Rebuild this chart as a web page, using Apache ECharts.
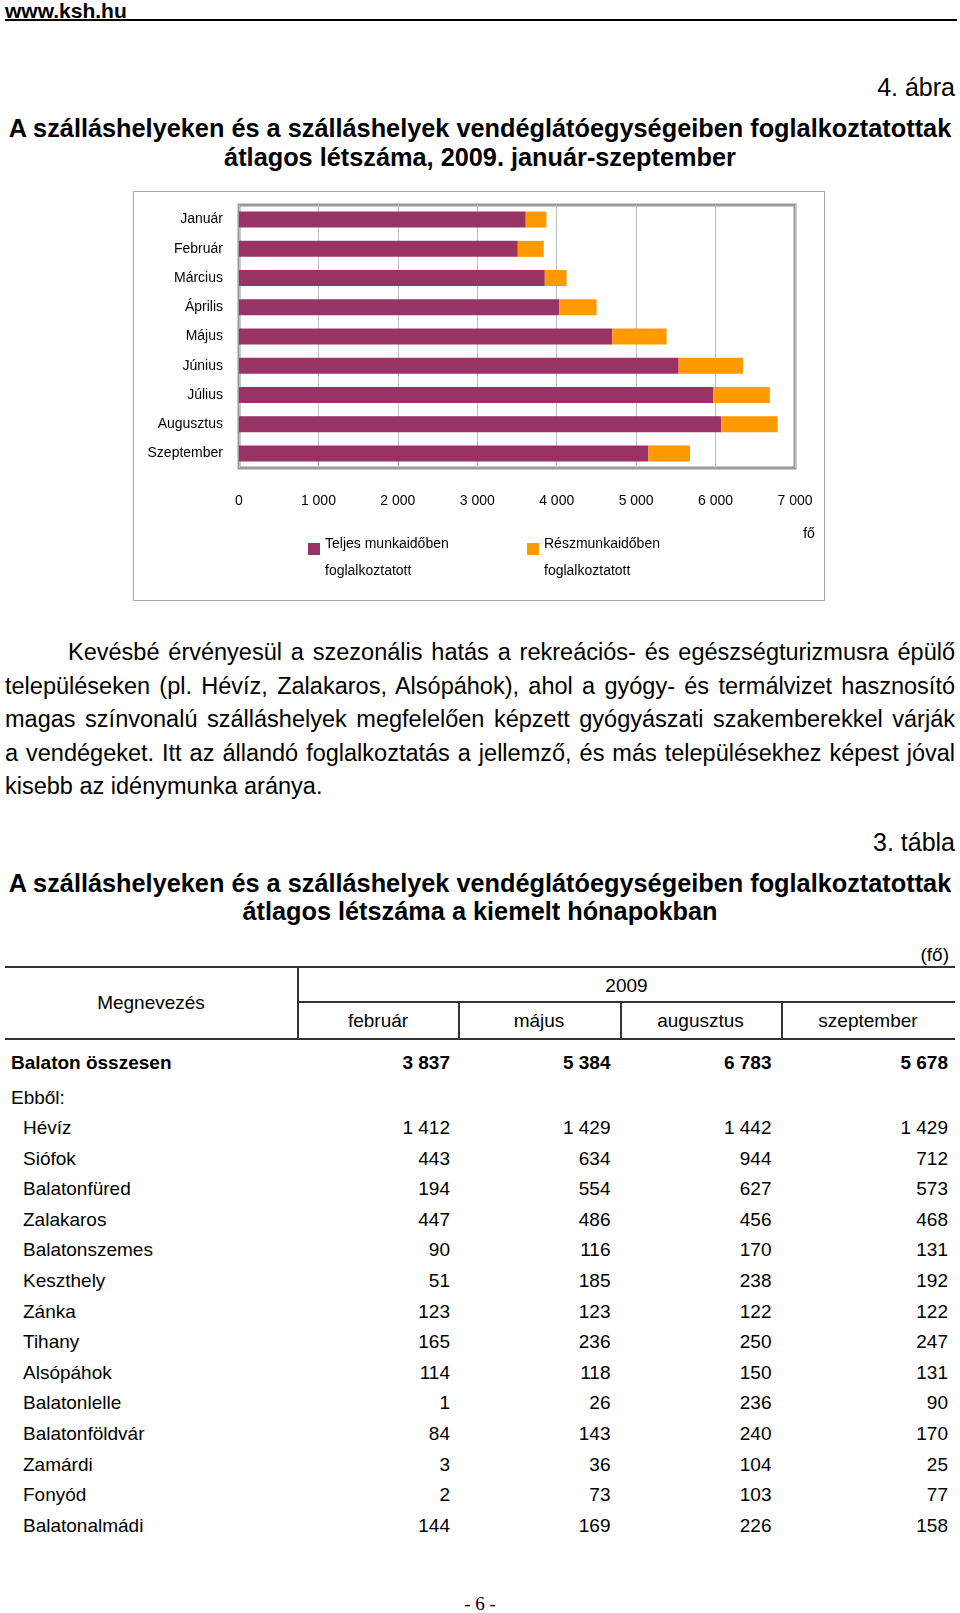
<!DOCTYPE html>
<html><head><meta charset="utf-8">
<script src="https://cdn.jsdelivr.net/npm/echarts/dist/echarts.min.js"></script>
<style>
body{margin:0;width:960px;height:1613px;position:relative;background:#fff;font-family:'Liberation Sans',Arial,sans-serif;color:#000;overflow:hidden}
.a{position:absolute;white-space:nowrap}
.p{position:absolute;left:5px;width:950px;font-size:23.5px;line-height:30px;text-align:justify;text-align-last:justify}
.t{position:absolute;font-size:19px;line-height:24px;white-space:nowrap}
.rule{position:absolute;background:#333}
#chart{position:absolute;left:133px;top:191px;width:692px;height:410px;box-sizing:border-box;border:1px solid #a6a6a6}
</style></head><body>
<div class="a" style="left:5px;top:0px;font-size:21px;line-height:21px;font-weight:bold">www.ksh.hu</div>
<div class="rule" style="left:5px;top:19px;width:952px;height:2px;background:#000"></div>
<div class="a" style="right:5px;top:72px;font-size:25px;line-height:30px">4. ábra</div>
<div class="a" style="left:5px;width:950px;top:114px;font-size:25.3px;line-height:29px;font-weight:bold;text-align:center">A szálláshelyeken és a szálláshelyek vendéglátóegységeiben foglalkoztatottak<br>átlagos létszáma, 2009. január-szeptember</div>
<div id="chart"></div>

<div class="p" style="left:68px;width:887px;top:637px">Kevésbé érvényesül a szezonális hatás a rekreációs- és egészségturizmusra épülő</div>
<div class="p" style="top:670.6px">településeken (pl. Hévíz, Zalakaros, Alsópáhok), ahol a gyógy- és termálvizet hasznosító</div>
<div class="p" style="top:704.2px">magas színvonalú szálláshelyek megfelelően képzett gyógyászati szakemberekkel várják</div>
<div class="p" style="top:737.8px">a vendégeket. Itt az állandó foglalkoztatás a jellemző, és más településekhez képest jóval</div>
<div class="p" style="top:771.4px;text-align:left;text-align-last:left">kisebb az idénymunka aránya.</div>

<div class="a" style="right:5px;top:827px;font-size:25px;line-height:30px">3. tábla</div>
<div class="a" style="left:5px;width:950px;top:868.6px;font-size:25.3px;line-height:28.8px;font-weight:bold;text-align:center">A szálláshelyeken és a szálláshelyek vendéglátóegységeiben foglalkoztatottak<br>átlagos létszáma a kiemelt hónapokban</div>
<div class="t" style="right:11px;top:943px">(fő)</div>
<div id="table"></div>
<div class="a" style="left:430px;width:100px;text-align:center;top:1593px;font-family:'Liberation Serif','Times New Roman',serif;font-size:19px;line-height:22px">- 6 -</div>

<script>
// ---- chart data ----
const months = ['Január','Február','Március','Április','Május','Június','Július','Augusztus','Szeptember'];
const fullTime = [3610,3510,3850,4030,4700,5535,5970,6070,5155];
const partTime = [260,327,275,472,684,810,713,713,523];
const seriesNames = ['Teljes munkaidőben foglalkoztatott','Részmunkaidőben foglalkoztatott'];
const xMax = 7000, xStep = 1000;
const unitLabel = 'fő';

// ---- table data ----
const tableYear = '2009';
const tableMonths = ['február','május','augusztus','szeptember'];
const totalName = 'Balaton összesen';
const totalValues = [3837,5384,6783,5678];
const towns = ['Hévíz','Siófok','Balatonfüred','Zalakaros','Balatonszemes','Keszthely','Zánka','Tihany','Alsópáhok','Balatonlelle','Balatonföldvár','Zamárdi','Fonyód','Balatonalmádi'];
const febValues = [1412,443,194,447,90,51,123,165,114,1,84,3,2,144];
const majValues = [1429,634,554,486,116,185,123,236,118,26,143,36,73,169];
const augValues = [1442,944,627,456,170,238,122,250,150,236,240,104,103,226];
const szepValues = [1429,712,573,468,131,192,122,247,131,90,170,25,77,158];

const fmt = v => String(v).replace(/\B(?=(\d{3})+(?!\d))/g, ' ');
const FF = "'Liberation Sans', Arial, sans-serif";

const chart = echarts.init(document.getElementById('chart'), null, {renderer:'canvas'});
const legendText = n => '{e| }\n{t|' + n.replace(' foglalkoztatott', '}\n{t|foglalkoztatott}');
const legendBase = {
  orient:'horizontal', padding:0, itemWidth:12, itemHeight:12, icon:'rect', selectedMode:false,
  formatter: legendText,
  textStyle:{fontSize:14, fontFamily:FF, color:'#000',
    rich:{e:{fontSize:14, lineHeight:18, fontFamily:FF}, t:{fontSize:14, lineHeight:27, fontFamily:FF, color:'#000'}}}
};
chart.setOption({
  animation:false,
  grid:{left:105, top:13, width:556, height:263, show:true, borderColor:'#9a9a9a', borderWidth:3, backgroundColor:'#fff'},
  legend:[
    Object.assign({}, legendBase, {data:[seriesNames[0]], left:174, top:323}),
    Object.assign({}, legendBase, {data:[seriesNames[1]], left:393, top:323})
  ],
  xAxis:{type:'value', min:0, max:xMax, interval:xStep,
    axisLine:{show:false}, axisTick:{show:false},
    splitLine:{lineStyle:{color:'#c0c0c0', width:1}},
    axisLabel:{margin:26, fontSize:14, fontFamily:FF, color:'#000', formatter: fmt}},
  yAxis:{type:'category', data:months, inverse:true,
    axisLine:{show:false}, axisTick:{show:false},
    axisLabel:{margin:16, fontSize:14, fontFamily:FF, color:'#000'}},
  series:[
    {name:seriesNames[0], type:'bar', stack:'s', data:fullTime, barWidth:16, itemStyle:{color:'#993366'}},
    {name:seriesNames[1], type:'bar', stack:'s', data:partTime, barWidth:16, itemStyle:{color:'#FF9900'}}
  ],
  graphic:[{type:'text', x:675, y:342, style:{text:unitLabel, fontSize:14, fontFamily:FF, fill:'#000', align:'center', verticalAlign:'middle'}}]
});

// ---- table ----
const T = document.getElementById('table');
function add(html){ T.insertAdjacentHTML('beforeend', html); }
function rule(l,t,w,h){ add(`<div class="rule" style="left:${l}px;top:${t}px;width:${w}px;height:${h}px"></div>`); }
function txt(s, style){ add(`<div class="t" style="${style}">${s}</div>`); }
rule(5,966,950,2);
rule(298,1001,657,2);
rule(5,1038,950,2);
rule(297,966,1.5,73);
[458,620,781].forEach(x => rule(x,1001,1.5,38));
txt('Megnevezés','left:5px;width:292px;text-align:center;top:991px');
txt(tableYear,'left:298px;width:657px;text-align:center;top:974px');
const colBounds = [[298,458],[458,620],[620,781],[781,955]];
tableMonths.forEach((m,i)=>{
  const [a,b] = colBounds[i];
  txt(m,`left:${a}px;width:${b-a}px;text-align:center;top:1009px`);
});
const numRight = [450,610.5,771.5,948];
function rowNums(vals, cy, bold){
  vals.forEach((v,i)=> txt(fmt(v), `left:${numRight[i]-120}px;width:120px;text-align:right;top:${cy-12}px;${bold?'font-weight:bold':''}`));
}
txt(totalName,'left:11px;top:1050.5px;font-weight:bold');
rowNums(totalValues, 1062.5, true);
txt('Ebből:','left:11px;top:1085.5px');
towns.forEach((n,k)=>{
  const cy = 1128 + k*30.6;
  txt(n,`left:23px;top:${cy-12}px`);
  rowNums([febValues[k],majValues[k],augValues[k],szepValues[k]], cy, false);
});
</script>
</body></html>
